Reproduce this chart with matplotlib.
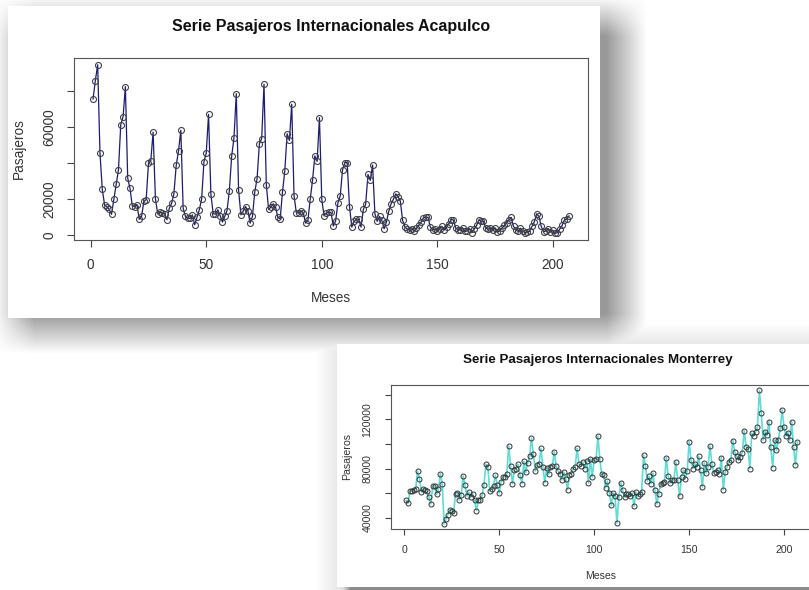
import numpy as np
import matplotlib
matplotlib.use("Agg")
import matplotlib.pyplot as plt

plt.rcParams['font.family'] = ['Liberation Sans', 'DejaVu Sans']

# pasajeros internacionales (miles) por mes
acapulco = [
    75.5, 85.7, 94.5, 45.6, 25.6, 16.8, 15.9, 14.4, 11.7, 20.0, 28.3, 36.3,
    61.3, 65.7, 82.4, 31.8, 26.0, 16.3, 16.0, 17.0, 8.9, 10.5, 18.8, 19.8,
    40.0, 41.4, 57.2, 20.3, 12.0, 13.0, 12.5, 12.0, 8.7, 15.0, 17.7, 23.0,
    38.8, 46.7, 58.2, 15.0, 10.5, 9.4, 9.4, 11.4, 5.9, 10.0, 14.2, 20.0,
    40.8, 45.6, 67.0, 23.0, 12.0, 11.8, 14.2, 11.0, 7.4, 10.5, 13.8, 24.6,
    43.8, 54.0, 78.5, 25.0, 11.4, 13.5, 16.0, 13.8, 6.8, 10.5, 24.0, 31.4,
    50.8, 53.6, 83.7, 28.0, 14.4, 15.7, 17.5, 15.7, 10.0, 9.2, 24.0, 35.6,
    56.3, 52.6, 72.6, 22.0, 12.5, 12.4, 13.5, 12.5, 6.8, 8.3, 20.0, 30.5,
    44.0, 41.0, 65.2, 20.0, 10.9, 12.5, 13.0, 12.7, 5.2, 8.0, 18.0, 22.0,
    36.4, 40.3, 40.3, 16.0, 4.6, 7.8, 9.0, 9.0, 4.6, 14.4, 17.2, 33.8,
    30.5, 39.0, 12.0, 7.8, 10.5, 8.3, 3.7, 7.4, 13.3, 17.5, 20.0, 23.0,
    21.5, 19.0, 8.3, 4.6, 3.5, 2.8, 3.7, 2.5, 4.0, 5.5, 7.4, 9.8,
    10.2, 10.0, 4.6, 3.1, 3.5, 2.4, 3.7, 5.0, 3.0, 4.5, 6.5, 8.8,
    8.5, 4.0, 3.2, 3.0, 4.2, 2.2, 2.5, 3.8, 1.5, 3.5, 5.5, 8.5,
    8.0, 7.8, 4.0, 3.5, 4.0, 2.8, 4.0, 1.8, 2.5, 4.0, 5.5, 7.0,
    8.5, 10.0, 5.0, 3.0, 2.2, 4.0, 2.5, 1.5, 2.0, 2.2, 5.0, 7.5,
    12.0, 10.5, 5.0, 2.0, 2.5, 3.8, 2.0, 2.8, 1.2, 1.5, 3.5, 5.5,
    8.5, 9.0, 10.8,
]

monterrey = [
    54.2, 52.0, 61.8, 61.8, 62.9, 63.7, 77.9, 71.9, 61.0, 63.7, 62.3, 61.5,
    56.9, 51.4, 65.9, 65.9, 59.1, 63.2, 76.0, 67.8, 35.1, 39.2, 42.7, 46.5,
    46.0, 43.8, 59.6, 60.2, 54.7, 58.3, 74.1, 66.4, 57.7, 61.0, 56.9, 59.6,
    54.2, 46.0, 54.2, 54.7, 58.3, 67.0, 83.6, 81.4, 61.8, 63.7, 65.9, 74.6,
    66.4, 60.2, 69.2, 73.2, 73.2, 75.4, 98.3, 82.0, 67.8, 78.7, 80.0, 83.6,
    74.6, 67.8, 86.0, 77.0, 84.7, 90.1, 104.6, 91.5, 78.1, 82.8, 84.1, 96.4,
    81.4, 68.6, 80.6, 75.4, 81.4, 82.2, 93.7, 82.0, 78.1, 76.0, 71.1, 77.3,
    71.9, 62.9, 75.1, 76.0, 80.0, 81.4, 96.4, 84.1, 82.0, 85.5, 80.0, 86.3,
    68.3, 88.2, 73.2, 86.9, 87.4, 106.5, 87.4, 75.4, 74.6, 64.3, 69.7, 60.2,
    50.1, 60.2, 57.4, 35.9, 56.9, 68.6, 62.9, 56.9, 59.6, 59.1, 57.4, 60.2,
    49.5, 61.0, 57.4, 59.6, 61.0, 91.0, 82.0, 70.0, 73.8, 67.8, 76.5, 62.3,
    51.4, 59.6, 67.8, 68.3, 69.2, 89.0, 73.8, 68.3, 71.1, 70.5, 85.5, 70.5,
    57.7, 73.2, 78.7, 71.9, 78.1, 101.8, 86.9, 80.0, 84.0, 81.4, 90.1, 78.7, 65.1,
    84.7, 76.5, 81.4, 98.3, 83.6, 76.5, 77.3, 79.0, 76.0, 89.0, 62.9, 77.3, 81.4,
    85.5, 86.9, 102.7, 93.7, 90.0, 86.9, 89.6, 92.9, 110.8, 97.8, 96.0, 80.0, 108.7, 106.5,
    110.0, 113.6, 143.5, 125.0, 103.2, 110.0, 107.3, 118.2, 97.2, 80.9, 103.2, 95.0,
    103.2, 112.8, 127.7, 113.6, 106.5, 109.2, 103.2, 118.2, 97.8, 82.8, 101.8,
]

acapulco = np.array(acapulco) * 1000
monterrey = np.array(monterrey) * 1000
meses_aca = np.arange(1, len(acapulco) + 1)
meses_mty = np.arange(1, len(monterrey) + 1)

xticks = [0, 50, 100, 150, 200]
yticks_aca = [0, 20000, 40000, 60000, 80000]
ylabels_aca = ['0', '20000', '', '60000', '']
yticks_mty = [40000, 60000, 80000, 100000, 120000, 140000]
ylabels_mty = ['40000', '', '80000', '', '120000', '']

W, H = 809, 590
fig = plt.figure(figsize=(W / 100, H / 100), dpi=100)

# fondo: tarjetas con sombra (captura de pantalla)
yy, xx = np.mgrid[0:H, 0:W]


def soft_rect(x0, y0, x1, y1, r):
    fx = np.clip(np.minimum(xx - x0, x1 - xx) / r + 0.5, 0, 1)
    fy = np.clip(np.minimum(yy - y0, y1 - yy) / r + 0.5, 0, 1)
    return fx * fy


shade = 0.40 * soft_rect(14, 16, 626, 333, 40)
shade = np.maximum(shade, 0.09 * soft_rect(6, 4, 602, 320, 18))
shade = np.maximum(shade, 0.13 * soft_rect(331, 338, 840, 620, 30))
shade = np.maximum(shade, 0.45 * soft_rect(345, 352, 840, 600, 10))
bg = 1 - shade
bg[6:318, 8:600] = 1.0
bg[344:587, 337:] = 1.0
img = np.dstack([bg, bg, bg])

bgax = fig.add_axes([0, 0, 1, 1])
bgax.imshow(img, extent=(0, W, H, 0), aspect='auto', interpolation='bilinear')
bgax.set_axis_off()


def px_axes(x0, y0, x1, y1):
    return fig.add_axes([x0 / W, 1 - y1 / H, (x1 - x0) / W, (y1 - y0) / H])


def style(ax, size, ticklen, xpad, ypad):
    for s in ax.spines.values():
        s.set_color('#555555')
        s.set_linewidth(0.8)
    ax.tick_params(colors='#444444', labelcolor='#333333', labelsize=size,
                   length=ticklen, width=0.8)
    ax.tick_params(axis='x', pad=xpad)
    ax.tick_params(axis='y', pad=ypad)
    for lab in ax.get_yticklabels():
        lab.set_rotation(90)
        lab.set_va('center')


# Acapulco
ax1 = px_axes(74, 58, 588, 240)
ax1.plot(meses_aca, acapulco, color='#1c1c72', lw=0.9, marker='o', ms=4.3,
         mfc='none', mec='#404048', mew=0.8)
ax1.set_xlim(-7.24, 215.24)
ax1.margins(y=0.04)
ax1.set_xticks(xticks)
ax1.set_yticks(yticks_aca)
ax1.set_yticklabels(ylabels_aca)
style(ax1, 9.8, 5, 8, 7.5)
fig.text(331 / W, 1 - 26 / H, 'Serie Pasajeros Internacionales Acapulco',
         ha='center', va='center', fontsize=11.5, fontweight='bold', color='#111111')
fig.text(331 / W, 1 - 298 / H, 'Meses', ha='center', va='center',
         fontsize=9.8, color='#333333')
fig.text(19 / W, 1 - 149 / H, 'Pasajeros', ha='center', va='center',
         rotation=90, fontsize=9.8, color='#333333')

# Monterrey
ax2 = px_axes(390.5, 385, 813, 529.3)
ax2.plot(meses_mty, monterrey, color='#5fdcd5', lw=1.2, marker='o', ms=3.6,
         mfc='none', mec='#333333', mew=0.7)
ax2.set_xlim(-7.24, 215.24)
ax2.margins(y=0.04)
ax2.set_xticks(xticks)
ax2.set_yticks(yticks_mty)
ax2.set_yticklabels(ylabels_mty)
style(ax2, 7.6, 4.5, 7, 8.5)
fig.text(598 / W, 1 - 360 / H, 'Serie Pasajeros Internacionales Monterrey',
         ha='center', va='center', fontsize=9.6, fontweight='bold', color='#111111')
fig.text(601 / W, 1 - 576 / H, 'Meses', ha='center', va='center',
         fontsize=7.6, color='#333333')
fig.text(347 / W, 1 - 457 / H, 'Pasajeros', ha='center', va='center',
         rotation=90, fontsize=7.6, color='#333333')

fig.savefig('out.png', dpi=100)
